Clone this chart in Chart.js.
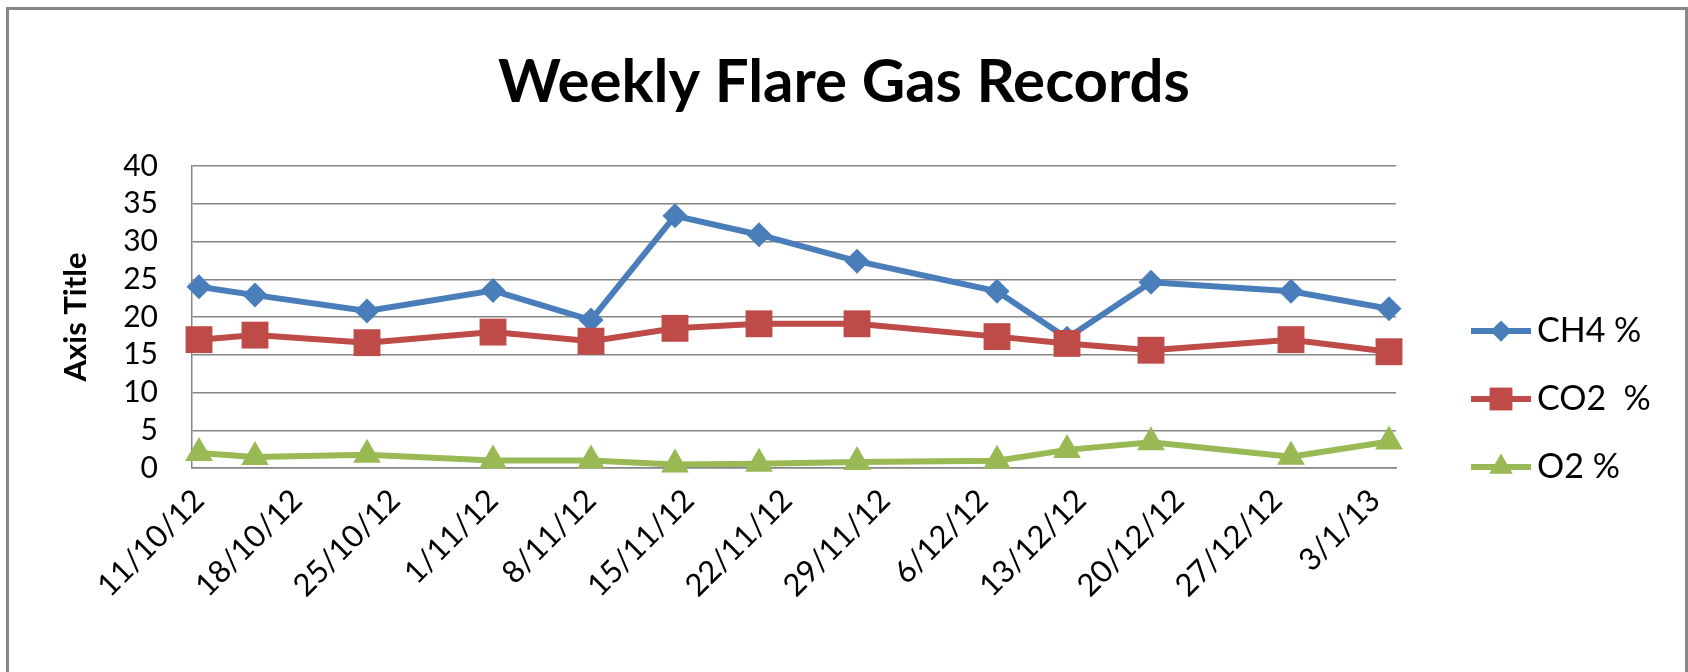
<!DOCTYPE html>
<html>
<head>
<meta charset="utf-8">
<title>Weekly Flare Gas Records</title>
<script src="https://cdn.jsdelivr.net/npm/chart.js@4.4.1/dist/chart.umd.min.js"></script>
<style>
    html, body { margin: 0; padding: 0; background: #ffffff; width: 1688px; height: 672px; overflow: hidden; }
    #frame { position: absolute; left: 6px; top: 7px; width: 1676px; height: 720px; border: 3px solid #878787; }
    #flareChart { position: absolute; left: 0; top: 0; }
</style>
</head>
<body>
<div id="frame"></div>
<canvas id="flareChart" width="1688" height="672"></canvas>
<script>
// sample dates (day the reading was taken)
const sampleDates = ["2012-10-11", "2012-10-15", "2012-10-23", "2012-11-01", "2012-11-08", "2012-11-14", "2012-11-20",
    "2012-11-27", "2012-12-07", "2012-12-12", "2012-12-18", "2012-12-28", "2013-01-04"];
const ch4Values = [24.0, 22.9, 20.8, 23.5, 19.6, 33.4, 30.9, 27.4, 23.4, 17.2, 24.6, 23.4, 21.1];
const co2Values = [17.0, 17.6, 16.6, 18.0, 16.8, 18.5, 19.1, 19.1, 17.4, 16.5, 15.6, 17.0, 15.4];
const o2Values = [2.0, 1.45, 1.75, 1.0, 1.0, 0.45, 0.55, 0.8, 0.95, 2.4, 3.4, 1.5, 3.5];
const seriesNames = ["CH4 %", "CO2  %", "O2 %"];
const tickLabels = ["11/10/12", "18/10/12", "25/10/12", "1/11/12", "8/11/12", "15/11/12", "22/11/12",
    "29/11/12", "6/12/12", "13/12/12", "20/12/12", "27/12/12", "3/1/13"];

const DAY = 86400000;
const startDay = Date.parse(sampleDates[0]);

function dayOf(iso) {
    return Math.round((Date.parse(iso) - startDay) / DAY);
}

function dayOfLabel(label) {
    const parts = label.split("/").map(Number);
    return Math.round((Date.UTC(2000 + parts[2], parts[1] - 1, parts[0]) - startDay) / DAY);
}

function toPoints(values) {
    return values.map(function (v, i) {
        return { x: dayOf(sampleDates[i]), y: v };
    });
}

const firstDay = dayOf(sampleDates[0]);
const lastDay = dayOf(sampleDates[sampleDates.length - 1]);

// line + marker legend at the right, like the spreadsheet one
const sideLegend = {
    id: "sideLegend",
    afterDraw(chart, args, opts) {
        const ctx = chart.ctx;
        ctx.save();
        ctx.font = opts.font;
        ctx.textBaseline = "middle";
        ctx.textAlign = "left";
        chart.data.datasets.forEach(function (ds, i) {
            const y = opts.top + i * opts.spacing;
            ctx.strokeStyle = ds.borderColor;
            ctx.lineWidth = ds.borderWidth;
            ctx.beginPath();
            ctx.moveTo(opts.left, y);
            ctx.lineTo(opts.left + opts.lineLength, y);
            ctx.stroke();
            ctx.fillStyle = ds.backgroundColor;
            Chart.helpers.drawPoint(ctx, {
                pointStyle: ds.pointStyle,
                radius: ds.pointRadius * 0.85,
                rotation: 0,
                borderWidth: 0
            }, opts.left + opts.lineLength / 2, y);
            ctx.fillStyle = "#000000";
            ctx.fillText(ds.label, opts.left + opts.lineLength + opts.gap, y);
        });
        ctx.restore();
    }
};

document.addEventListener("DOMContentLoaded", function () {
    const canvas = document.getElementById("flareChart");
    if (!canvas || !window.Chart) {
        return;
    }

    new Chart(canvas.getContext("2d"), {
        type: "line",
        data: {
            datasets: [
                {
                    label: seriesNames[0],
                    data: toPoints(ch4Values),
                    borderColor: "#4a7ebb",
                    backgroundColor: "#4a7ebb",
                    borderWidth: 6,
                    pointStyle: "rectRot",
                    pointRadius: 12.5,
                    pointBorderWidth: 0,
                    order: 3,
                    clip: false
                },
                {
                    label: seriesNames[1],
                    data: toPoints(co2Values),
                    borderColor: "#be4b48",
                    backgroundColor: "#be4b48",
                    borderWidth: 6,
                    pointStyle: "rect",
                    pointRadius: 19,
                    pointBorderWidth: 0,
                    order: 2,
                    clip: false
                },
                {
                    label: seriesNames[2],
                    data: toPoints(o2Values),
                    borderColor: "#98b954",
                    backgroundColor: "#98b954",
                    borderWidth: 6,
                    pointStyle: "triangle",
                    pointRadius: 16,
                    pointBorderWidth: 0,
                    order: 1,
                    clip: false
                }
            ]
        },
        options: {
            responsive: false,
            animation: false,
            devicePixelRatio: 1,
            layout: {
                padding: 0
            },
            scales: {
                x: {
                    type: "linear",
                    min: firstDay - 0.5,
                    max: lastDay + 0.5,
                    afterBuildTicks: function (scale) {
                        scale.ticks = tickLabels.map(function (t) {
                            return { value: dayOfLabel(t) };
                        });
                    },
                    afterFit: function (scale) {
                        scale.height = 204;
                    },
                    grid: { display: false },
                    border: { display: true, color: "#868686", width: 1.5 },
                    ticks: {
                        autoSkip: false,
                        maxRotation: 45,
                        minRotation: 45,
                        padding: 6,
                        color: "#000000",
                        font: { family: "Lato", size: 31 },
                        callback: function (value, index) {
                            return tickLabels[index];
                        }
                    }
                },
                y: {
                    min: 0,
                    max: 40,
                    afterFit: function (scale) {
                        scale.width = 192;
                    },
                    grid: { color: "#868686", lineWidth: 1.5, drawTicks: false },
                    border: { display: true, color: "#868686", width: 1.5 },
                    ticks: {
                        stepSize: 5,
                        autoSkip: false,
                        padding: 34,
                        color: "#000000",
                        font: { family: "Lato", size: 30 }
                    },
                    title: {
                        display: true,
                        text: "Axis Title",
                        color: "#000000",
                        font: { family: "Lato", size: 31, weight: "bold" },
                        padding: { top: 57, bottom: 0 }
                    }
                },
                // empty axis that keeps room on the right for the legend
                legendSpace: {
                    position: "right",
                    afterFit: function (scale) {
                        scale.width = 292;
                    },
                    grid: { display: false },
                    border: { display: false },
                    ticks: { display: false }
                }
            },
            plugins: {
                legend: { display: false },
                tooltip: { enabled: false },
                title: {
                    display: true,
                    text: "Weekly Flare Gas Records",
                    color: "#000000",
                    font: { family: "Lato", size: 60, weight: "bold" },
                    padding: { top: 47, bottom: 47 }
                },
                sideLegend: {
                    left: 1471,
                    top: 331,
                    spacing: 68,
                    lineLength: 60,
                    gap: 6,
                    font: "34px Lato"
                }
            }
        },
        plugins: [sideLegend]
    });
});
</script>
</body>
</html>
